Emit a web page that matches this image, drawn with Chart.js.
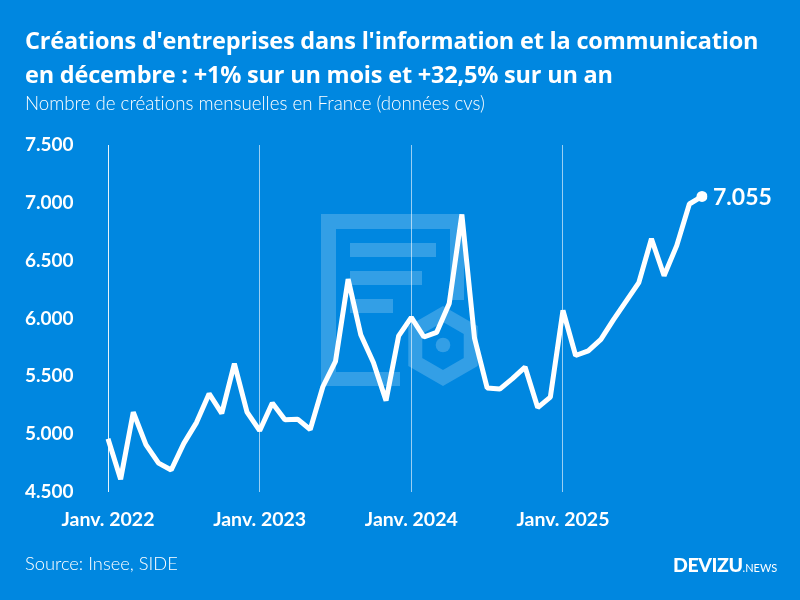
<!DOCTYPE html>
<html>
<head>
<meta charset="utf-8">
<script src="https://cdn.jsdelivr.net/npm/chart.js@4.4.1/dist/chart.umd.min.js"></script>
<style>
  html, body { margin: 0; padding: 0; }
  body { width: 800px; height: 600px; background: #0087e0; position: relative; overflow: hidden; font-family: Lato, "Noto Sans", sans-serif; color: #fff; font-variant-ligatures: none; }
  #wrap { position: absolute; left: 0; top: 0; width: 800px; height: 600px; }
  .title { position: absolute; left: 25px; top: 23px; font-family: "Open Sans", Lato, sans-serif; font-size: 23.5px; font-weight: 700; line-height: 34px; white-space: nowrap; letter-spacing: -0.2px; }
  .subtitle { position: absolute; left: 25px; top: 92px; font-size: 18.7px; font-weight: 300; line-height: 22px; white-space: nowrap; }
  .source { position: absolute; left: 25px; top: 552px; font-size: 18.3px; font-weight: 300; line-height: 22px; }
  .logo { position: absolute; left: 673px; top: 553px; white-space: nowrap; line-height: 24px; }
  .logo b { font-size: 19.5px; font-weight: 900; letter-spacing: -0.4px; }
  .logo span { font-size: 11px; font-weight: 400; }
</style>
</head>
<body>
<div id="wrap"><canvas id="myChart"></canvas></div>
<div class="title">Créations d'entreprises dans l'information et la communication<br>en décembre : +1% sur un mois et +32,5% sur un an</div>
<div class="subtitle">Nombre de créations mensuelles en France (données cvs)</div>
<div class="source">Source: Insee, SIDE</div>
<div class="logo"><b>DEVIZU</b><span>.NEWS</span></div>
<script>
const years = ['2022', '2023', '2024', '2025'];
const monthNames = ['janv.', 'févr.', 'mars', 'avr.', 'mai', 'juin', 'juil.', 'août', 'sept.', 'oct.', 'nov.', 'déc.'];
const yearLabels = ['Janv. 2022', 'Janv. 2023', 'Janv. 2024', 'Janv. 2025'];

const creations2022 = [4960, 4610, 5190, 4910, 4750, 4690, 4920, 5100, 5350, 5180, 5610, 5190];
const creations2023 = [5030, 5270, 5125, 5130, 5040, 5410, 5630, 6340, 5860, 5620, 5290, 5850];
const creations2024 = [6010, 5840, 5880, 6130, 6900, 5830, 5400, 5390, 5480, 5580, 5230, 5320];
const creations2025 = [6070, 5680, 5720, 5820, 5990, 6150, 6310, 6690, 6370, 6630, 6990, 7055];

let labels = [];
years.forEach(y => monthNames.forEach(m => labels.push(m + ' ' + y)));
const values = [].concat(creations2022, creations2023, creations2024, creations2025);

const fmt = n => String(n).replace(/\B(?=(\d{3})+(?!\d))/g, '.');

// logo filigrane en fond
const watermark = {
    id: 'watermark',
    beforeDatasetsDraw(chart) {
        const c = chart.ctx;
        c.save();
        c.fillStyle = 'rgba(255,255,255,0.2)';
        c.strokeStyle = 'rgba(255,255,255,0.2)';
        // document
        c.fillRect(321, 214, 15, 172);
        c.fillRect(336, 214, 128, 15);
        c.fillRect(450, 229, 14, 71);
        c.fillRect(350, 243, 86, 14);
        c.fillRect(350, 271, 72, 14);
        c.fillRect(350, 299, 43, 14);
        c.fillRect(336, 372, 64, 14);
        // hexagone
        c.lineWidth = 14;
        c.beginPath();
        for (let i = 0; i < 6; i++) {
            const a = Math.PI / 2 + i * Math.PI / 3;
            const px = 443 + 32 * Math.cos(a), py = 346 - 32 * Math.sin(a);
            i ? c.lineTo(px, py) : c.moveTo(px, py);
        }
        c.closePath();
        c.stroke();
        c.beginPath();
        c.arc(443, 345, 7.3, 0, Math.PI * 2);
        c.fill();
        c.restore();
    }
};

const lastLabel = {
    id: 'lastLabel',
    afterDatasetsDraw(chart) {
        const meta = chart.getDatasetMeta(0);
        const pt = meta.data[meta.data.length - 1];
        const c = chart.ctx;
        c.save();
        c.fillStyle = '#fff';
        c.font = 'bold 23px Lato';
        c.textBaseline = 'middle';
        c.fillText(fmt(values[values.length - 1]), pt.x + 11, pt.y + 1);
        c.restore();
    }
};

const myChart = document.getElementById('myChart');

new Chart(myChart, {
    type: 'line',
    data: {
        labels: labels,
        datasets: [{
            data: values,
            borderColor: '#fff',
            backgroundColor: '#fff',
            borderWidth: 5,
            borderJoinStyle: 'bevel',
            tension: 0,
            pointRadius: ctx => ctx.dataIndex === values.length - 1 ? 5.5 : 0,
            pointHoverRadius: 0,
            pointBorderWidth: 0
        }]
    },
    options: {
        responsive: true,
        maintainAspectRatio: false,
        animation: false,
        events: [],
        layout: { padding: { left: 25, right: 98, top: 145, bottom: 48 } },
        plugins: { legend: { display: false }, tooltip: { enabled: false } },
        scales: {
            x: {
                offset: false,
                border: { display: false },
                grid: {
                    offset: false,
                    drawTicks: false,
                    lineWidth: 1,
                    color: ctx => ctx.index % 12 === 0 ? (ctx.index === 0 ? 'rgba(255,255,255,0.9)' : 'rgba(255,255,255,0.6)') : 'rgba(0,0,0,0)'
                },
                afterFit: s => { s.height = 60; },
                ticks: {
                    autoSkip: false,
                    maxRotation: 0,
                    padding: 16,
                    color: '#fff',
                    font: { family: 'Lato', size: 19.5, weight: 'bold' },
                    callback: (v, i) => i % 12 === 0 ? yearLabels[i / 12] : ''
                }
            },
            y: {
                min: 4500,
                max: 7500,
                border: { display: false },
                grid: { display: false },
                afterFit: s => { s.width = 83; },
                ticks: {
                    stepSize: 500,
                    crossAlign: 'far',
                    color: '#fff',
                    font: { family: 'Lato', size: 19, weight: 'bold' },
                    callback: v => fmt(v)
                }
            }
        }
    },
    plugins: [watermark, lastLabel]
});
</script>
</body>
</html>
